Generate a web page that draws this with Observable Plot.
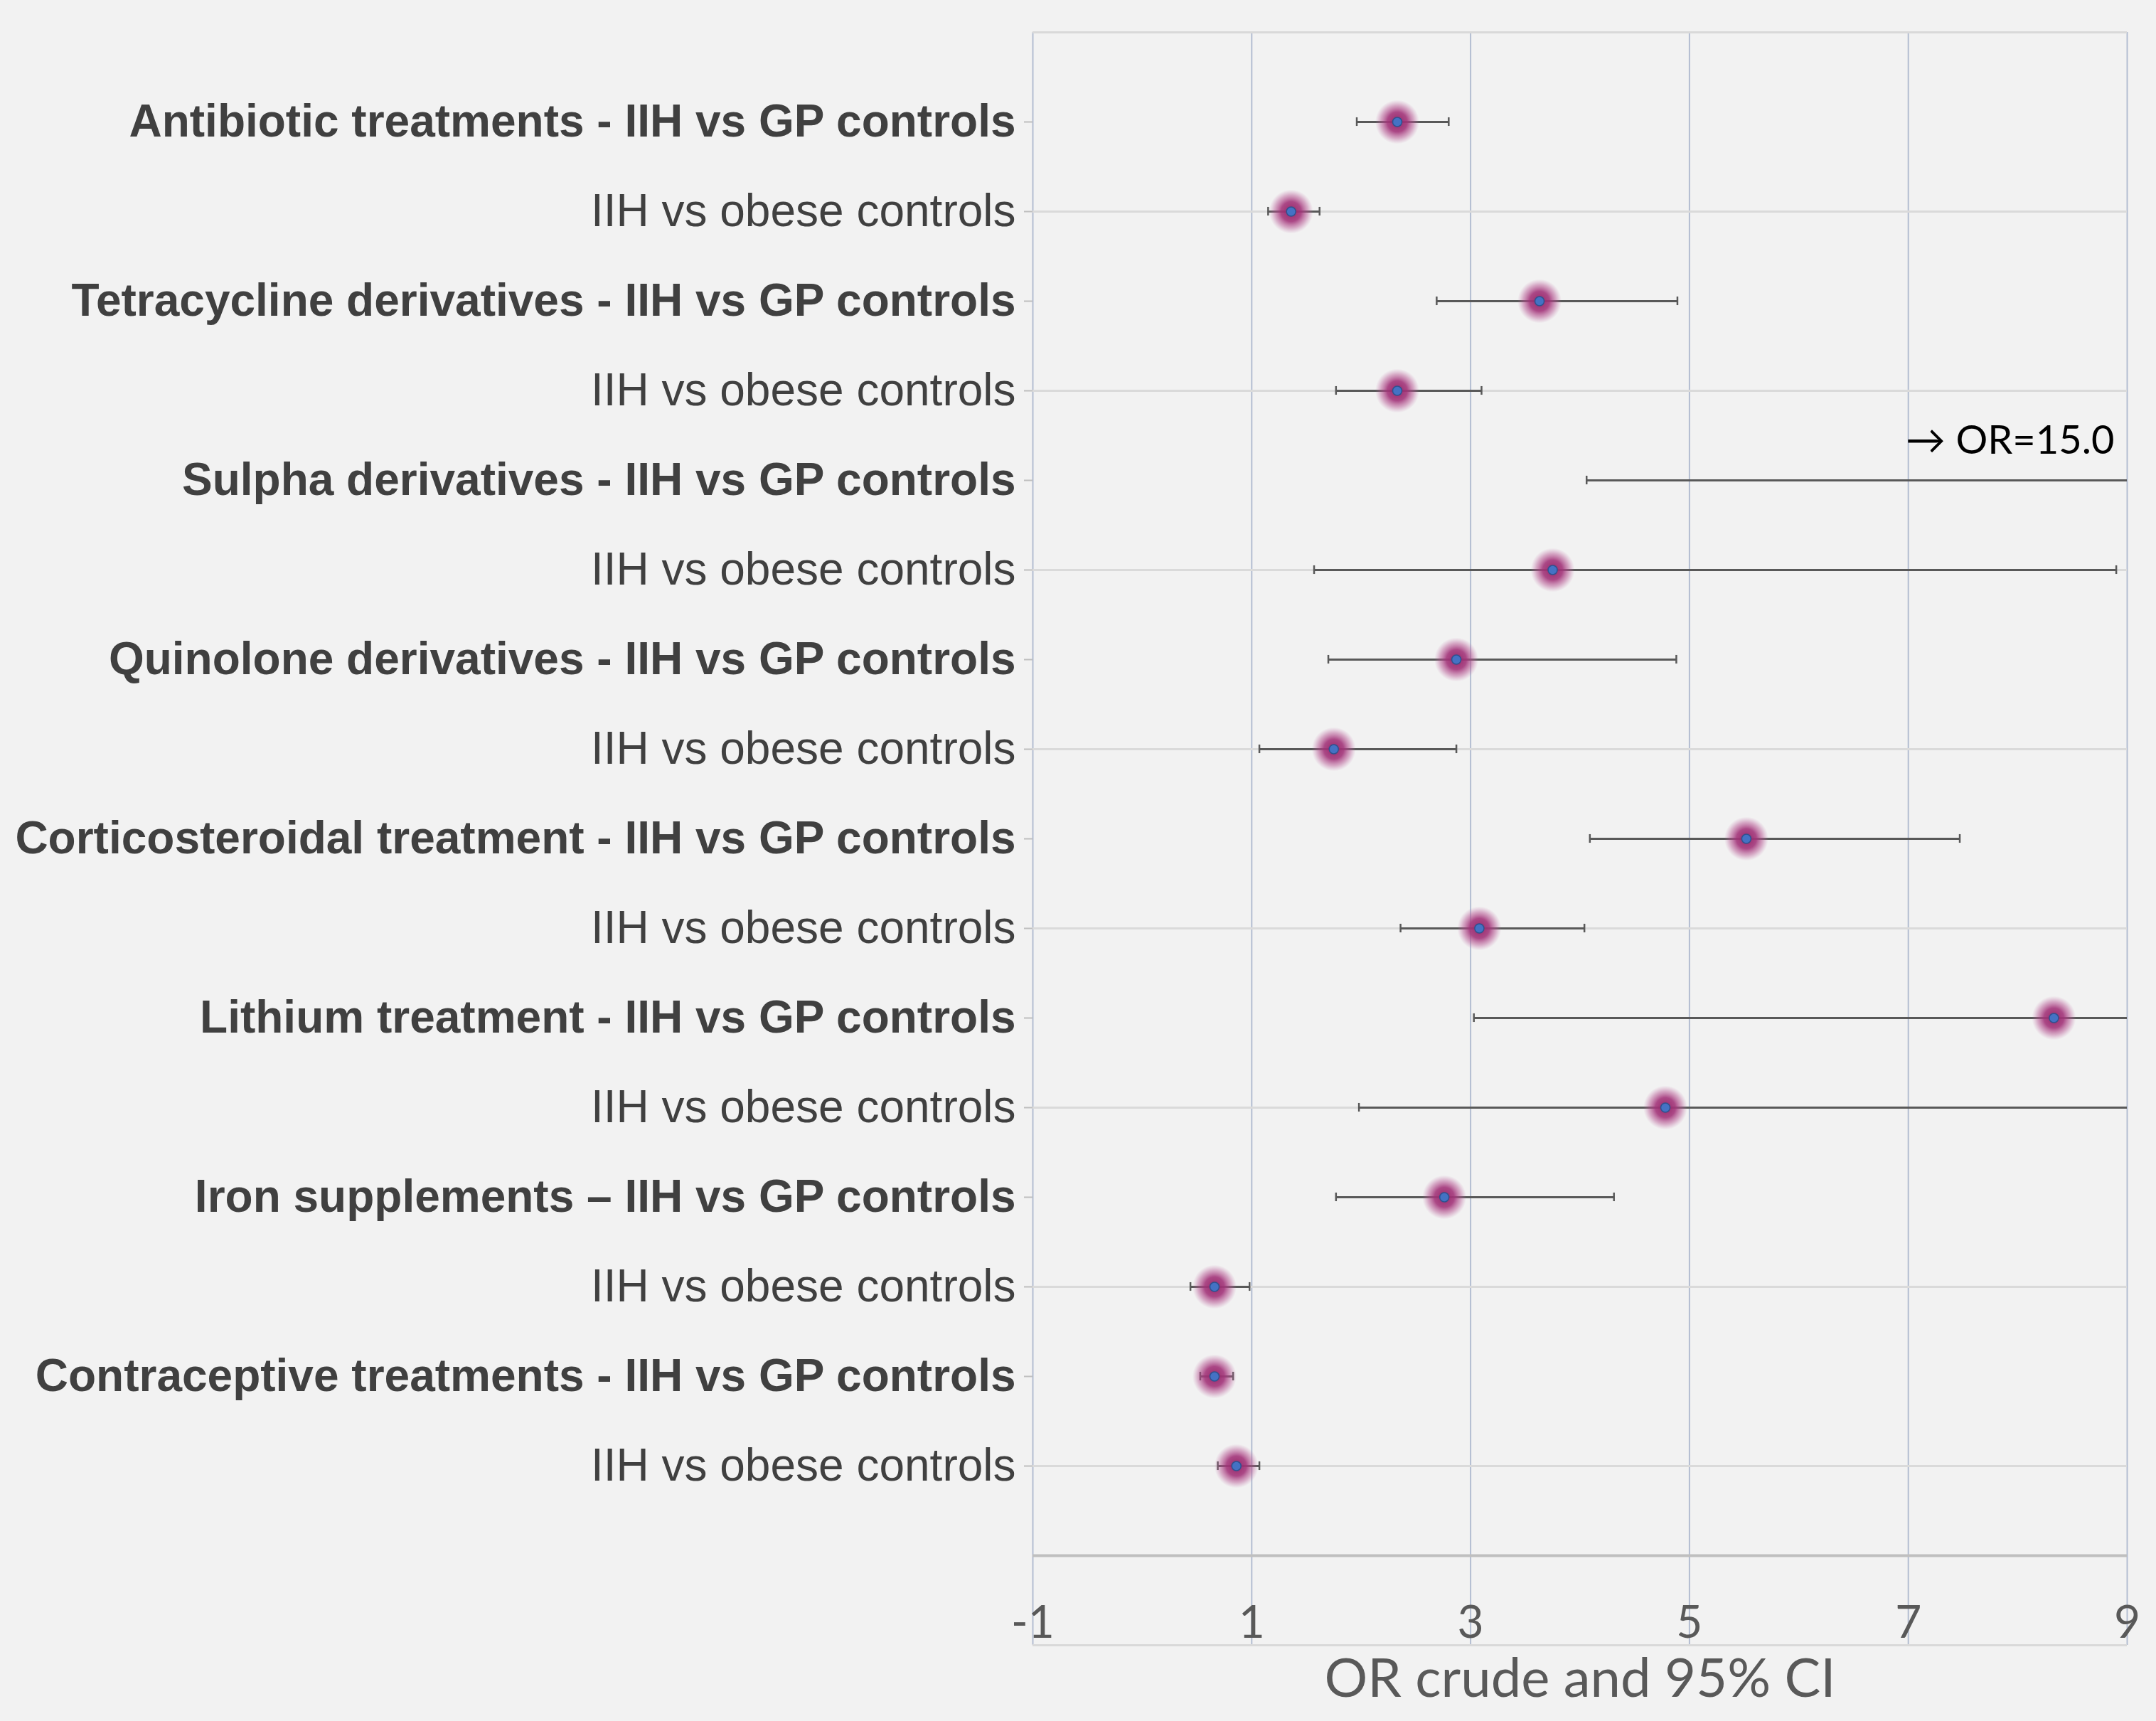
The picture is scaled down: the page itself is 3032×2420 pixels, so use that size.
<!DOCTYPE html>
<html><head><meta charset="utf-8">
<script src="https://cdn.jsdelivr.net/npm/d3@7"></script>
<script src="https://cdn.jsdelivr.net/npm/@observablehq/plot@0.6"></script>
<style>
html,body{margin:0;padding:0;background:#f2f2f2;}
#chart svg{display:block;}
</style></head><body><div id="chart"></div>
<script>
// ---- data ----
const labels = [
  "Antibiotic treatments - IIH vs GP controls",
  "IIH vs obese controls",
  "Tetracycline derivatives - IIH vs GP controls",
  "IIH vs obese controls",
  "Sulpha derivatives - IIH vs GP controls",
  "IIH vs obese controls",
  "Quinolone derivatives - IIH vs GP controls",
  "IIH vs obese controls",
  "Corticosteroidal treatment - IIH vs GP controls",
  "IIH vs obese controls",
  "Lithium treatment - IIH vs GP controls",
  "IIH vs obese controls",
  "Iron supplements \u2013 IIH vs GP controls",
  "IIH vs obese controls",
  "Contraceptive treatments - IIH vs GP controls",
  "IIH vs obese controls"
];
const isGP = [true,false,true,false,true,false,true,false,true,false,true,false,true,false,true,false];
const orCrude = [2.33, 1.36, 3.63, 2.33, 15.0, 3.75, 2.87, 1.75, 5.52, 3.08, 8.33, 4.78, 2.76, 0.66, 0.66, 0.86];
const ciLow   = [1.96, 1.15, 2.69, 1.77, 4.06, 1.57, 1.70, 1.07, 4.09, 2.36, 3.03, 1.98, 1.77, 0.44, 0.53, 0.69];
const ciHigh  = [2.80, 1.62, 4.89, 3.10, 55.0, 8.90, 4.88, 2.87, 7.47, 4.04, 22.0, 11.5, 4.31, 0.98, 0.83, 1.07];
const xTicks = [-1, 1, 3, 5, 7, 9];
const xDomain = [-1, 9];
const xTitle = "OR crude and 95% CI";
const notes = [{row: 5, text: "\u2192 OR=15.0"}];

// ---- table ----
const data = labels.map((label, i) => ({
  row: i + 1, label, gp: isGP[i], or: orCrude[i], lo: ciLow[i], hi: ciHigh[i]
}));
const nRows = labels.length;
const axisRow = nRows + 1;
const bottomRow = nRows + 2;
const capHalf = 0.048;

const labelFont = "'Liberation Sans', Arial, sans-serif";
const axisFont = "Lato, 'Open Sans', sans-serif";

const svg = Plot.plot({
  width: 3032,
  height: 2420,
  marginTop: 45,
  marginBottom: 107,
  marginLeft: 1452,
  marginRight: 41,
  style: {background: "#f2f2f2", fontFamily: labelFont, overflow: "visible"},
  x: {domain: xDomain, label: null},
  y: {domain: [0, bottomRow], reverse: true, label: null},
  marks: [
    Plot.ruleX(xTicks, {stroke: "#b3bdd1", strokeWidth: 2}),
    Plot.ruleY([0], {stroke: "#d9d9d9", strokeWidth: 3}),
    Plot.ruleY(data.filter(d => !d.gp), {y: "row", stroke: "#dadada", strokeWidth: 3}),
    Plot.ruleY([axisRow], {stroke: "#bfbfbf", strokeWidth: 4}),
    Plot.ruleY([bottomRow], {stroke: "#d9d9d9", strokeWidth: 3}),
    Plot.axisY({ticks: data.map(d => d.row), tickSize: 12, tickFormat: () => "", stroke: "#bfbfbf", strokeWidth: 2, label: null}),
    Plot.ruleY(data, {y: "row", x1: "lo", x2: "hi", stroke: "#595959", strokeWidth: 3, clip: true}),
    Plot.ruleX(data, {x: "lo", y1: d => d.row - capHalf, y2: d => d.row + capHalf, stroke: "#595959", strokeWidth: 2.5, clip: true}),
    Plot.ruleX(data, {x: "hi", y1: d => d.row - capHalf, y2: d => d.row + capHalf, stroke: "#595959", strokeWidth: 2.5, clip: true}),
    Plot.dot(data, {x: "or", y: "row", r: 31, fill: "url(#glow)", stroke: "none", clip: true}),
    Plot.dot(data, {x: "or", y: "row", r: 6.5, fill: "#4472c4", stroke: "#2f528f", strokeWidth: 1.5, clip: true}),
    Plot.text(data.filter(d => d.gp), {y: "row", text: "label", frameAnchor: "left", textAnchor: "end", dx: -24,
      fontSize: 64, fontWeight: "bold", fill: "#404040", fontFamily: labelFont}),
    Plot.text(data.filter(d => !d.gp), {y: "row", text: "label", frameAnchor: "left", textAnchor: "end", dx: -24,
      fontSize: 64, fill: "#404040", fontFamily: labelFont}),
    Plot.axisX({ticks: xTicks, tickSize: 0, tickPadding: 0, dy: -56, fontSize: 64, fill: "#595959",
      fontFamily: axisFont, label: null, tickFormat: d => String(d)}),
    Plot.text([xTitle], {frameAnchor: "bottom", dy: 72, fontSize: 76, fill: "#595959", fontFamily: axisFont}),
    Plot.text(notes, {x: () => xDomain[1], y: "row", text: "text", textAnchor: "end", dx: -18, dy: -55,
      fontSize: 56, fill: "#000000", fontFamily: axisFont})
  ]
});

const defs = d3.select(svg).insert("defs", ":first-child");
const grad = defs.append("radialGradient").attr("id", "glow");
grad.append("stop").attr("offset", "0%").attr("stop-color", "#962868").attr("stop-opacity", 1);
grad.append("stop").attr("offset", "45%").attr("stop-color", "#a3357a").attr("stop-opacity", 0.9);
grad.append("stop").attr("offset", "75%").attr("stop-color", "#b4508f").attr("stop-opacity", 0.45);
grad.append("stop").attr("offset", "100%").attr("stop-color", "#c070a8").attr("stop-opacity", 0);

document.getElementById("chart").appendChild(svg);
</script>
</body></html>
